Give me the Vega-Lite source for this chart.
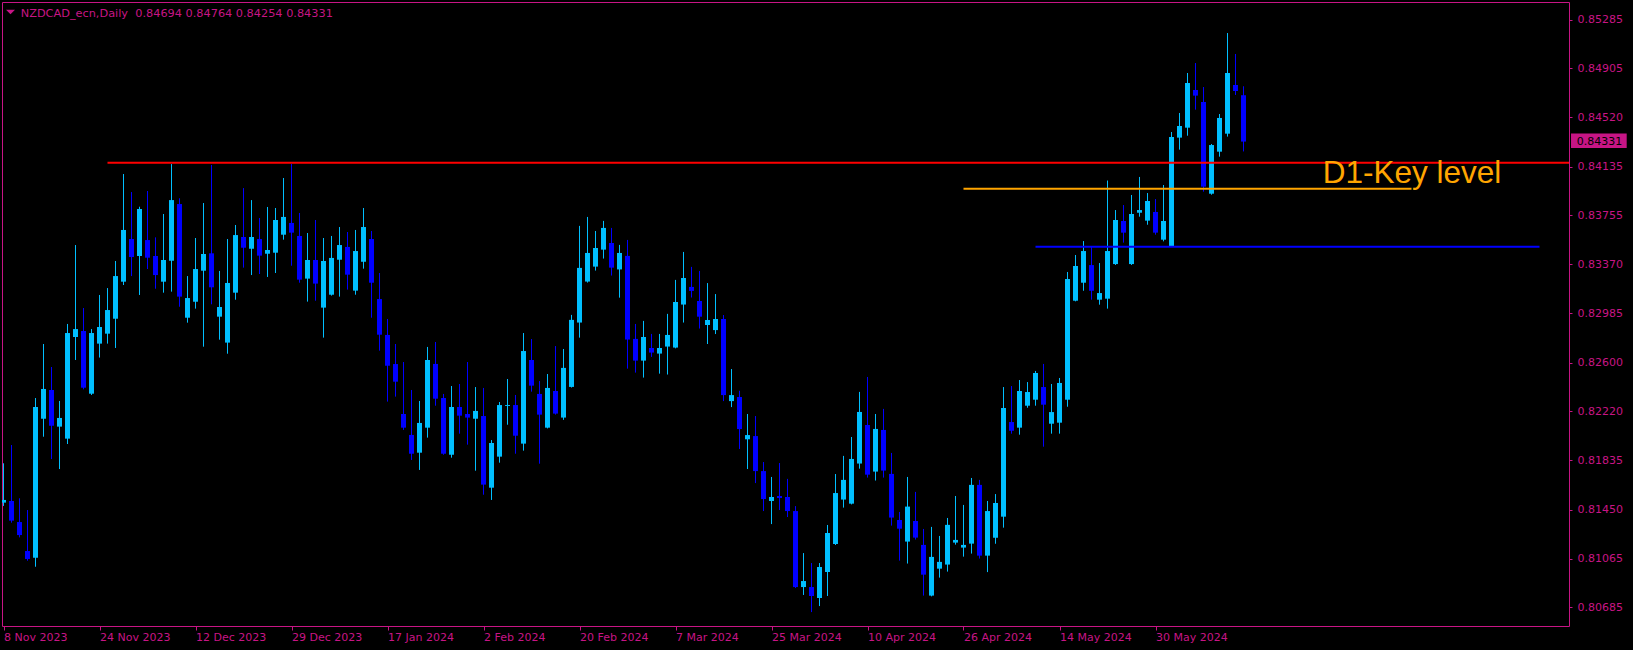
{
"$schema": "https://vega.github.io/schema/vega-lite/v6.json",
"width": 1567, "height": 624,
"autosize": {"type": "none"},
"padding": {"left": 2, "top": 2, "right": 64, "bottom": 24},
"background": "#000000",
"config": {"view": {"stroke": "#C71585", "strokeWidth": 1}},
"datasets": {
"bars": [
{"i":0,"d":"2023-11-08","o":0.81504,"h":0.81812,"l":0.81478,"c":0.81525},
{"i":1,"d":"2023-11-09","o":0.81517,"h":0.81955,"l":0.81347,"c":0.81363},
{"i":2,"d":"2023-11-10","o":0.81352,"h":0.81538,"l":0.81232,"c":0.8125},
{"i":3,"d":"2023-11-13","o":0.81125,"h":0.81446,"l":0.81049,"c":0.81063},
{"i":4,"d":"2023-11-14","o":0.81073,"h":0.82323,"l":0.81002,"c":0.82253},
{"i":5,"d":"2023-11-15","o":0.82161,"h":0.82746,"l":0.8202,"c":0.82394},
{"i":6,"d":"2023-11-16","o":0.82386,"h":0.82566,"l":0.81845,"c":0.82106},
{"i":7,"d":"2023-11-17","o":0.82099,"h":0.823,"l":0.81767,"c":0.82167},
{"i":8,"d":"2023-11-20","o":0.82005,"h":0.82903,"l":0.81963,"c":0.82832},
{"i":9,"d":"2023-11-21","o":0.82801,"h":0.83521,"l":0.82621,"c":0.82863},
{"i":10,"d":"2023-11-22","o":0.82848,"h":0.83028,"l":0.82391,"c":0.82404},
{"i":11,"d":"2023-11-23","o":0.82357,"h":0.82863,"l":0.82347,"c":0.82832},
{"i":12,"d":"2023-11-24","o":0.82749,"h":0.8313,"l":0.8264,"c":0.82879},
{"i":13,"d":"2023-11-27","o":0.82827,"h":0.83184,"l":0.82749,"c":0.83012},
{"i":14,"d":"2023-11-28","o":0.82944,"h":0.83396,"l":0.82715,"c":0.83278},
{"i":15,"d":"2023-11-29","o":0.83234,"h":0.84077,"l":0.83208,"c":0.83639},
{"i":16,"d":"2023-11-30","o":0.83568,"h":0.83936,"l":0.83278,"c":0.83427},
{"i":17,"d":"2023-12-01","o":0.83435,"h":0.83821,"l":0.8313,"c":0.83803},
{"i":18,"d":"2023-12-04","o":0.8356,"h":0.83944,"l":0.83333,"c":0.83422},
{"i":19,"d":"2023-12-05","o":0.83435,"h":0.83581,"l":0.83179,"c":0.83286},
{"i":20,"d":"2023-12-06","o":0.83234,"h":0.83764,"l":0.83148,"c":0.83404},
{"i":21,"d":"2023-12-07","o":0.83398,"h":0.84155,"l":0.83156,"c":0.83873},
{"i":22,"d":"2023-12-08","o":0.83842,"h":0.83887,"l":0.83038,"c":0.83117},
{"i":23,"d":"2023-12-11","o":0.82952,"h":0.83278,"l":0.82913,"c":0.83106},
{"i":24,"d":"2023-12-12","o":0.83077,"h":0.83576,"l":0.83023,"c":0.83333},
{"i":25,"d":"2023-12-13","o":0.8332,"h":0.8385,"l":0.82725,"c":0.83451},
{"i":26,"d":"2023-12-14","o":0.83456,"h":0.84148,"l":0.83057,"c":0.8319},
{"i":27,"d":"2023-12-15","o":0.8296,"h":0.83318,"l":0.8278,"c":0.83036},
{"i":28,"d":"2023-12-18","o":0.82757,"h":0.83568,"l":0.8267,"c":0.83224},
{"i":29,"d":"2023-12-19","o":0.83148,"h":0.83678,"l":0.83093,"c":0.83599},
{"i":30,"d":"2023-12-20","o":0.83584,"h":0.83967,"l":0.83344,"c":0.835},
{"i":31,"d":"2023-12-21","o":0.83492,"h":0.83873,"l":0.83286,"c":0.83584},
{"i":32,"d":"2023-12-22","o":0.83568,"h":0.83733,"l":0.83294,"c":0.83438},
{"i":33,"d":"2023-12-26","o":0.83453,"h":0.83819,"l":0.83271,"c":0.83482},
{"i":34,"d":"2023-12-27","o":0.83461,"h":0.83811,"l":0.83302,"c":0.83717},
{"i":35,"d":"2023-12-28","o":0.83602,"h":0.84046,"l":0.83563,"c":0.83741},
{"i":36,"d":"2023-12-29","o":0.83694,"h":0.84156,"l":0.83359,"c":0.83618},
{"i":37,"d":"2024-01-02","o":0.83592,"h":0.83772,"l":0.83226,"c":0.8325},
{"i":38,"d":"2024-01-03","o":0.83258,"h":0.83615,"l":0.83078,"c":0.83404},
{"i":39,"d":"2024-01-04","o":0.83404,"h":0.83717,"l":0.83085,"c":0.83219},
{"i":40,"d":"2024-01-05","o":0.83031,"h":0.83576,"l":0.82796,"c":0.83396},
{"i":41,"d":"2024-01-08","o":0.83132,"h":0.83592,"l":0.83125,"c":0.8342},
{"i":42,"d":"2024-01-09","o":0.83406,"h":0.83662,"l":0.83117,"c":0.83521},
{"i":43,"d":"2024-01-10","o":0.83506,"h":0.83623,"l":0.83172,"c":0.83289},
{"i":44,"d":"2024-01-11","o":0.83164,"h":0.83639,"l":0.83132,"c":0.83474},
{"i":45,"d":"2024-01-12","o":0.8339,"h":0.83811,"l":0.83336,"c":0.83662},
{"i":46,"d":"2024-01-15","o":0.83568,"h":0.83631,"l":0.82952,"c":0.83226},
{"i":47,"d":"2024-01-16","o":0.83098,"h":0.83302,"l":0.82694,"c":0.82819},
{"i":48,"d":"2024-01-17","o":0.82817,"h":0.82942,"l":0.82295,"c":0.82576},
{"i":49,"d":"2024-01-18","o":0.82589,"h":0.82746,"l":0.82334,"c":0.82451},
{"i":50,"d":"2024-01-19","o":0.82198,"h":0.82605,"l":0.82073,"c":0.82091},
{"i":51,"d":"2024-01-22","o":0.82034,"h":0.82386,"l":0.81838,"c":0.81887},
{"i":52,"d":"2024-01-23","o":0.81895,"h":0.823,"l":0.8176,"c":0.82128},
{"i":53,"d":"2024-01-24","o":0.82091,"h":0.82723,"l":0.82013,"c":0.82621},
{"i":54,"d":"2024-01-25","o":0.8259,"h":0.82762,"l":0.82263,"c":0.82318},
{"i":55,"d":"2024-01-26","o":0.82323,"h":0.82355,"l":0.81879,"c":0.81887},
{"i":56,"d":"2024-01-29","o":0.81879,"h":0.82417,"l":0.81856,"c":0.82253},
{"i":57,"d":"2024-01-30","o":0.82253,"h":0.82433,"l":0.82044,"c":0.82185},
{"i":58,"d":"2024-01-31","o":0.82198,"h":0.82605,"l":0.81958,"c":0.8217},
{"i":59,"d":"2024-02-01","o":0.82161,"h":0.82409,"l":0.81754,"c":0.82222},
{"i":60,"d":"2024-02-02","o":0.82182,"h":0.82402,"l":0.81566,"c":0.81645},
{"i":61,"d":"2024-02-05","o":0.81621,"h":0.81994,"l":0.81525,"c":0.81971},
{"i":62,"d":"2024-02-06","o":0.81864,"h":0.82292,"l":0.81817,"c":0.82268},
{"i":63,"d":"2024-02-07","o":0.82261,"h":0.82472,"l":0.82114,"c":0.82268},
{"i":64,"d":"2024-02-08","o":0.82268,"h":0.82347,"l":0.81887,"c":0.82028},
{"i":65,"d":"2024-02-09","o":0.81966,"h":0.82832,"l":0.81911,"c":0.82691},
{"i":66,"d":"2024-02-12","o":0.82621,"h":0.82785,"l":0.82373,"c":0.8242},
{"i":67,"d":"2024-02-13","o":0.82355,"h":0.82456,"l":0.81809,"c":0.82193},
{"i":68,"d":"2024-02-14","o":0.82091,"h":0.82511,"l":0.82085,"c":0.82402},
{"i":69,"d":"2024-02-15","o":0.82378,"h":0.8273,"l":0.82193,"c":0.82201},
{"i":70,"d":"2024-02-16","o":0.8217,"h":0.82707,"l":0.82152,"c":0.82559},
{"i":71,"d":"2024-02-19","o":0.8241,"h":0.82974,"l":0.82405,"c":0.82935},
{"i":72,"d":"2024-02-20","o":0.82914,"h":0.83671,"l":0.82796,"c":0.83342},
{"i":73,"d":"2024-02-21","o":0.83235,"h":0.83741,"l":0.83227,"c":0.83459},
{"i":74,"d":"2024-02-22","o":0.83352,"h":0.83631,"l":0.83321,"c":0.83498},
{"i":75,"d":"2024-02-23","o":0.83485,"h":0.8371,"l":0.83415,"c":0.83655},
{"i":76,"d":"2024-02-26","o":0.83537,"h":0.83655,"l":0.83282,"c":0.83344},
{"i":77,"d":"2024-02-27","o":0.8333,"h":0.83522,"l":0.83109,"c":0.83459},
{"i":78,"d":"2024-02-28","o":0.83436,"h":0.83561,"l":0.82553,"c":0.82781},
{"i":79,"d":"2024-02-29","o":0.82786,"h":0.82903,"l":0.82522,"c":0.82616},
{"i":80,"d":"2024-03-01","o":0.82616,"h":0.82927,"l":0.82483,"c":0.82801},
{"i":81,"d":"2024-03-04","o":0.82715,"h":0.82825,"l":0.82645,"c":0.82679},
{"i":82,"d":"2024-03-05","o":0.82671,"h":0.82825,"l":0.82514,"c":0.82715},
{"i":83,"d":"2024-03-06","o":0.82726,"h":0.82982,"l":0.82507,"c":0.82817},
{"i":84,"d":"2024-03-07","o":0.82718,"h":0.83248,"l":0.82712,"c":0.83075},
{"i":85,"d":"2024-03-08","o":0.83055,"h":0.83467,"l":0.82914,"c":0.83263},
{"i":86,"d":"2024-03-11","o":0.83193,"h":0.8335,"l":0.8311,"c":0.83162},
{"i":87,"d":"2024-03-12","o":0.83083,"h":0.83318,"l":0.82867,"c":0.8296},
{"i":88,"d":"2024-03-13","o":0.82895,"h":0.83223,"l":0.82746,"c":0.82934},
{"i":89,"d":"2024-03-14","o":0.82855,"h":0.83137,"l":0.82824,"c":0.82942},
{"i":90,"d":"2024-03-15","o":0.82942,"h":0.82973,"l":0.82299,"c":0.82346},
{"i":91,"d":"2024-03-18","o":0.82299,"h":0.8255,"l":0.82252,"c":0.82346},
{"i":92,"d":"2024-03-19","o":0.82331,"h":0.8238,"l":0.81924,"c":0.8208},
{"i":93,"d":"2024-03-20","o":0.82,"h":0.82198,"l":0.81767,"c":0.82033},
{"i":94,"d":"2024-03-21","o":0.82025,"h":0.82182,"l":0.81657,"c":0.81751},
{"i":95,"d":"2024-03-22","o":0.81751,"h":0.81822,"l":0.81438,"c":0.81532},
{"i":96,"d":"2024-03-25","o":0.81517,"h":0.81705,"l":0.81336,"c":0.81548},
{"i":97,"d":"2024-03-26","o":0.81556,"h":0.81814,"l":0.81446,"c":0.8154},
{"i":98,"d":"2024-03-27","o":0.81548,"h":0.8169,"l":0.81391,"c":0.81438},
{"i":99,"d":"2024-03-28","o":0.81438,"h":0.81477,"l":0.80835,"c":0.80843},
{"i":100,"d":"2024-03-29","o":0.80843,"h":0.81109,"l":0.80781,"c":0.8089},
{"i":101,"d":"2024-04-01","o":0.80843,"h":0.81031,"l":0.80647,"c":0.80773},
{"i":102,"d":"2024-04-02","o":0.80757,"h":0.81031,"l":0.80694,"c":0.81},
{"i":103,"d":"2024-04-03","o":0.80961,"h":0.81329,"l":0.80773,"c":0.81266},
{"i":104,"d":"2024-04-04","o":0.8118,"h":0.81728,"l":0.81172,"c":0.81579},
{"i":105,"d":"2024-04-05","o":0.81528,"h":0.8187,"l":0.81465,"c":0.81682},
{"i":106,"d":"2024-04-08","o":0.81496,"h":0.82018,"l":0.8149,"c":0.81846},
{"i":107,"d":"2024-04-09","o":0.8181,"h":0.82371,"l":0.8177,"c":0.82214},
{"i":108,"d":"2024-04-10","o":0.82112,"h":0.82488,"l":0.817,"c":0.81723},
{"i":109,"d":"2024-04-11","o":0.81747,"h":0.82198,"l":0.81677,"c":0.82081},
{"i":110,"d":"2024-04-12","o":0.82073,"h":0.82238,"l":0.817,"c":0.81755},
{"i":111,"d":"2024-04-15","o":0.81729,"h":0.81893,"l":0.81324,"c":0.81387},
{"i":112,"d":"2024-04-16","o":0.81368,"h":0.81431,"l":0.8105,"c":0.813},
{"i":113,"d":"2024-04-17","o":0.81199,"h":0.81705,"l":0.81027,"c":0.81473},
{"i":114,"d":"2024-04-18","o":0.8136,"h":0.81588,"l":0.81215,"c":0.8123},
{"i":115,"d":"2024-04-19","o":0.81173,"h":0.81298,"l":0.80776,"c":0.8094},
{"i":116,"d":"2024-04-22","o":0.80776,"h":0.81314,"l":0.8077,"c":0.81079},
{"i":117,"d":"2024-04-23","o":0.80987,"h":0.81243,"l":0.80917,"c":0.8104},
{"i":118,"d":"2024-04-24","o":0.81019,"h":0.81384,"l":0.80964,"c":0.8133},
{"i":119,"d":"2024-04-25","o":0.81191,"h":0.81556,"l":0.81175,"c":0.81212},
{"i":120,"d":"2024-04-26","o":0.81152,"h":0.81486,"l":0.81081,"c":0.81173},
{"i":121,"d":"2024-04-29","o":0.81183,"h":0.81697,"l":0.81105,"c":0.81643},
{"i":122,"d":"2024-04-30","o":0.81643,"h":0.81682,"l":0.81066,"c":0.81089},
{"i":123,"d":"2024-05-01","o":0.81089,"h":0.81517,"l":0.8096,"c":0.81438},
{"i":124,"d":"2024-05-02","o":0.81229,"h":0.81571,"l":0.81182,"c":0.81501},
{"i":125,"d":"2024-05-03","o":0.81394,"h":0.82409,"l":0.81308,"c":0.82245},
{"i":126,"d":"2024-05-06","o":0.82135,"h":0.82417,"l":0.82044,"c":0.82067},
{"i":127,"d":"2024-05-07","o":0.82091,"h":0.82464,"l":0.82036,"c":0.82378},
{"i":128,"d":"2024-05-08","o":0.82263,"h":0.82448,"l":0.82247,"c":0.8237},
{"i":129,"d":"2024-05-09","o":0.8231,"h":0.82535,"l":0.82263,"c":0.82519},
{"i":130,"d":"2024-05-10","o":0.82409,"h":0.8259,"l":0.81942,"c":0.82271},
{"i":131,"d":"2024-05-13","o":0.82122,"h":0.82433,"l":0.82044,"c":0.82213},
{"i":132,"d":"2024-05-14","o":0.8213,"h":0.8248,"l":0.82044,"c":0.82441},
{"i":133,"d":"2024-05-15","o":0.8231,"h":0.8331,"l":0.82255,"c":0.83255},
{"i":134,"d":"2024-05-16","o":0.83085,"h":0.83443,"l":0.8308,"c":0.83357},
{"i":135,"d":"2024-05-17","o":0.83226,"h":0.83552,"l":0.83163,"c":0.83474},
{"i":136,"d":"2024-05-20","o":0.83364,"h":0.83513,"l":0.83093,"c":0.83163},
{"i":137,"d":"2024-05-21","o":0.83093,"h":0.8338,"l":0.83054,"c":0.83145},
{"i":138,"d":"2024-05-22","o":0.83101,"h":0.84026,"l":0.83023,"c":0.83474},
{"i":139,"d":"2024-05-23","o":0.83372,"h":0.83795,"l":0.83365,"c":0.83717},
{"i":140,"d":"2024-05-24","o":0.83709,"h":0.83834,"l":0.8354,"c":0.83618},
{"i":141,"d":"2024-05-27","o":0.83372,"h":0.83913,"l":0.83365,"c":0.83764},
{"i":142,"d":"2024-05-28","o":0.83774,"h":0.84054,"l":0.83743,"c":0.83795},
{"i":143,"d":"2024-05-29","o":0.83712,"h":0.83928,"l":0.8368,"c":0.83866},
{"i":144,"d":"2024-05-30","o":0.8378,"h":0.83881,"l":0.83602,"c":0.83618},
{"i":145,"d":"2024-05-31","o":0.83563,"h":0.83991,"l":0.8355,"c":0.83709},
{"i":146,"d":"2024-06-03","o":0.83513,"h":0.84406,"l":0.8351,"c":0.84367},
{"i":147,"d":"2024-06-04","o":0.84362,"h":0.84555,"l":0.84268,"c":0.84453},
{"i":148,"d":"2024-06-05","o":0.8444,"h":0.84868,"l":0.84377,"c":0.8479},
{"i":149,"d":"2024-06-06","o":0.84735,"h":0.84946,"l":0.84581,"c":0.84691},
{"i":150,"d":"2024-06-07","o":0.84641,"h":0.84758,"l":0.83939,"c":0.83978},
{"i":151,"d":"2024-06-10","o":0.83923,"h":0.84312,"l":0.83915,"c":0.84304},
{"i":152,"d":"2024-06-11","o":0.84252,"h":0.84547,"l":0.84213,"c":0.84516},
{"i":153,"d":"2024-06-12","o":0.84393,"h":0.85181,"l":0.8437,"c":0.84868},
{"i":154,"d":"2024-06-13","o":0.84774,"h":0.85017,"l":0.84696,"c":0.84727},
{"i":155,"d":"2024-06-14","o":0.84694,"h":0.84764,"l":0.84254,"c":0.84331}
],
"levels": [
{"name":"red","p":0.84166,"from":13,"to":195.6875},
{"name":"orange","p":0.83962,"from":120,"to":176},
{"name":"blue","p":0.83508,"from":129,"to":192}
]
},
"layer": [
{
"data": {"name": "bars"},
"mark": {"type": "rule", "strokeWidth": 1, "clip": true},
"encoding": {
"x": {"field": "i", "type": "quantitative", "title": null,
 "scale": {"domain": [-0.1875, 195.6875], "nice": false, "zero": false, "padding": 0},
 "axis": {"orient": "bottom", "values": [0,12,24,36,48,60,72,84,96,108,120,132,144],
  "labelExpr": "['8 Nov 2023','24 Nov 2023','12 Dec 2023','29 Dec 2023','17 Jan 2024','2 Feb 2024','20 Feb 2024','7 Mar 2024','25 Mar 2024','10 Apr 2024','26 Apr 2024','14 May 2024','30 May 2024'][round(datum.value/12)]",
  "domain": false, "grid": false, "tickColor": "#C71585", "tickSize": 4, "labelColor": "#C71585",
  "labelFont": "DejaVu Sans", "labelFontSize": 11, "labelAlign": "left", "labelBaseline": "top",
  "labelPadding": 1, "labelFlush": false, "labelOverlap": false}},
"y": {"field": "l", "type": "quantitative", "title": null,
 "scale": {"domain": [0.80538, 0.85424], "nice": false, "zero": false, "padding": 0},
 "axis": {"orient": "right", "values": [0.85285,0.84905,0.8452,0.84135,0.83755,0.8337,0.82985,0.826,0.8222,0.81835,0.8145,0.81065,0.80685],
  "format": ".5f", "domain": false, "grid": false, "tickColor": "#C71585", "tickSize": 3,
  "labelColor": "#C71585", "labelFont": "DejaVu Sans", "labelFontSize": 11, "labelAlign": "left",
  "labelBaseline": "middle", "labelPadding": 5, "labelFlush": false, "labelOverlap": false}},
"y2": {"field": "h"},
"color": {"condition": {"test": "datum.c >= datum.o", "value": "#00BFFF"}, "value": "#0000FF"}
}
},
{
"data": {"name": "bars"},
"mark": {"type": "bar", "width": 5, "clip": true},
"encoding": {
"x": {"field": "i", "type": "quantitative", "title": null},
"y": {"field": "o", "type": "quantitative", "title": null},
"y2": {"field": "c"},
"color": {"condition": {"test": "datum.c >= datum.o", "value": "#00BFFF"}, "value": "#0000FF"}
}
},
{
"data": {"name": "levels"},
"mark": {"type": "rule", "strokeWidth": 2},
"encoding": {
"x": {"field": "from", "type": "quantitative", "title": null},
"x2": {"field": "to"},
"y": {"field": "p", "type": "quantitative", "title": null},
"color": {"field": "name", "type": "nominal", "legend": null,
 "scale": {"domain": ["red","orange","blue"], "range": ["#FF0000","#FFA500","#0000FF"]}}
}
},
{
"data": {"values": [{"t": "D1-Key level"}]},
"mark": {"type": "text", "align": "left", "baseline": "alphabetic", "font": "Liberation Sans", "fontSize": 31.5, "fill": "#FFA500"},
"encoding": {
"x": {"datum": 164.9, "type": "quantitative"},
"y": {"datum": 0.84007, "type": "quantitative"},
"text": {"field": "t"}
}
},
{
"data": {"values": [{"p": 0.84331}]},
"mark": {"type": "rect", "fill": "#C71585"},
"encoding": {
"x": {"datum": 195.94, "type": "quantitative"},
"x2": {"datum": 202.9},
"y": {"datum": 0.84395, "type": "quantitative"},
"y2": {"datum": 0.84281}
}
},
{
"data": {"values": [{"p": 0.84331}]},
"mark": {"type": "text", "align": "left", "baseline": "middle", "font": "DejaVu Sans", "fontSize": 11, "fill": "#000000"},
"encoding": {
"x": {"datum": 196.65, "type": "quantitative"},
"y": {"field": "p", "type": "quantitative", "title": null},
"text": {"field": "p", "type": "quantitative", "format": ".5f"}
}
},
{
"data": {"values": [{"t": "NZDCAD_ecn,Daily\u00a0 0.84694 0.84764 0.84254 0.84331"}]},
"mark": {"type": "text", "align": "left", "baseline": "alphabetic", "font": "DejaVu Sans", "fontSize": 11.3, "fill": "#C71585"},
"encoding": {
"x": {"datum": 2.15, "type": "quantitative"},
"y": {"datum": 0.85309, "type": "quantitative"},
"text": {"field": "t"}
}
},
{
"data": {"values": [{"t": "marker"}]},
"mark": {"type": "point", "shape": "M-1,-0.5L1,-0.5L0,0.5Z", "filled": true, "size": 81, "fill": "#C71585", "opacity": 1, "strokeWidth": 0},
"encoding": {
"x": {"datum": 0.875, "type": "quantitative"},
"y": {"datum": 0.85346, "type": "quantitative"}
}
}
]
}
